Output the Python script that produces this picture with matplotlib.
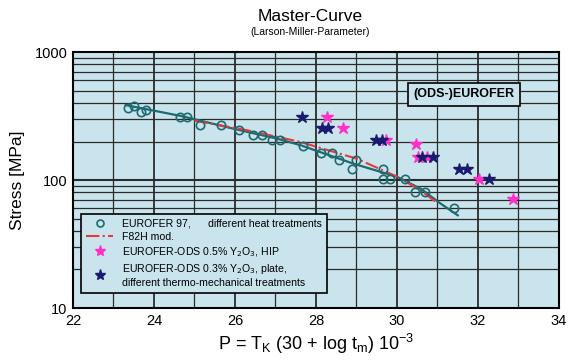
import numpy as np
import matplotlib
matplotlib.use("Agg")
import matplotlib.pyplot as plt
from matplotlib.ticker import FixedLocator, NullFormatter

plt.rcParams['font.family'] = ['Liberation Sans', 'DejaVu Sans']

# EUROFER 97, different heat treatments (circles)
eu_p = [23.37, 23.51, 23.68, 23.81, 24.65, 24.81, 25.14, 25.66, 26.10, 26.44,
        26.66, 26.92, 27.11, 27.68, 28.12, 28.40, 28.56, 28.90, 28.98, 29.66,
        29.66, 29.83, 30.20, 30.44, 30.68, 31.40]
eu_s = [363, 378, 342, 354, 311, 311, 269, 269, 247, 223,
        225, 204, 204, 183, 163, 163, 143, 122, 144, 122,
        102, 101, 102, 81, 81, 61]

# master curve fit through EUROFER 97
fit_p = [23.3, 24.7, 26.0, 27.0, 27.6, 28.9, 30.0, 30.6, 31.06, 31.5]
fit_s = [385, 315, 250, 212, 188, 135, 106, 85, 66, 53]

# F82H mod.
f82_p = [25.0, 26.3, 27.6, 29.0, 30.07, 30.6, 31.0]
f82_s = [291, 245, 199, 147, 104, 82, 66]

# EUROFER-ODS 0.5% Y2O3, HIP
ods5_p = [28.26, 28.67, 29.73, 30.48, 30.53, 30.73, 32.02, 32.86]
ods5_s = [312, 256, 204, 190, 152, 152, 102, 71]

# EUROFER-ODS 0.3% Y2O3, plate
ods3_p = [27.65, 28.14, 28.30, 29.47, 29.62, 30.61, 30.88, 31.52, 31.72, 32.28]
ods3_s = [312, 256, 256, 204, 204, 152, 152, 122, 122, 102]

bg = '#c9e4ec'
teal = '#1d6b70'

fig = plt.figure(figsize=(5.78, 3.64), dpi=100)
ax = fig.add_axes([0.1263, 0.1538, 0.8408, 0.7032])
ax.set_facecolor(bg)

ax.set_xlim(22, 34)
ax.set_yscale('log')
ax.set_ylim(10, 1000)

# grid
for xv in range(23, 34):
    ax.axvline(xv, color='#2a2a2a', lw=1.3 if xv % 2 == 0 else 0.9, zorder=1)
minor_y = [m * 10 ** e for e in (1, 2) for m in range(2, 10)]
for yv in minor_y:
    ax.axhline(yv, color='#2a2a2a', lw=0.9, zorder=1)
ax.axhline(100, color='#2a2a2a', lw=1.5, zorder=1)

ax.plot(fit_p, fit_s, color=teal, lw=1.6, zorder=3)
ax.plot(f82_p, f82_s, color='#e8383d', lw=1.5, ls='-.', zorder=4)
ax.plot(eu_p, eu_s, ls='none', marker='o', ms=6, mfc='none', mec=teal, mew=1.2,
        zorder=5)
ax.plot(ods5_p, ods5_s, ls='none', marker='*', ms=9, color='#ff30c8', zorder=6)
ax.plot(ods3_p, ods3_s, ls='none', marker='*', ms=9, color='#1a1a70', zorder=7)

# legend handles
h1, = ax.plot([], [], ls='none', marker='o', ms=5, mfc='none', mec=teal, mew=1.2)
h2, = ax.plot([], [], color='#e8383d', lw=1.5, ls='-.')
h3, = ax.plot([], [], ls='none', marker='*', ms=8, color='#ff30c8')
h4, = ax.plot([], [], ls='none', marker='*', ms=8, color='#1a1a70')
leg = ax.legend([h1, h2, h3, h4],
                ['EUROFER 97,      different heat treatments',
                 'F82H mod.',
                 'EUROFER-ODS 0.5% Y$_2$O$_3$, HIP',
                 'EUROFER-ODS 0.3% Y$_2$O$_3$, plate,\ndifferent thermo-mechanical treatments'],
                loc='lower left', bbox_to_anchor=(0.016, 0.059), borderaxespad=0,
                fontsize=7.6, frameon=True, fancybox=False, edgecolor='black',
                facecolor=bg, framealpha=1, handlelength=2.6, labelspacing=0.3,
                borderpad=0.5, handletextpad=0.8)
leg.get_frame().set_linewidth(1.2)
leg.set_zorder(10)

ax.text(0.908, 0.835, '(ODS-)EUROFER', transform=ax.transAxes, ha='right',
        va='center', fontsize=9, fontweight='bold',
        bbox=dict(boxstyle='square,pad=0.45', fc=bg, ec='black', lw=1.2),
        zorder=10)

ax.set_xticks(range(22, 35, 2))
ax.yaxis.set_minor_locator(FixedLocator(minor_y))
ax.yaxis.set_minor_formatter(NullFormatter())
ax.set_yticks([10, 100, 1000])
ax.set_yticklabels(['10', '100', '1000'])
ax.tick_params(axis='both', labelsize=10.5, length=0, pad=4)
ax.tick_params(which='minor', length=0)
for s in ax.spines.values():
    s.set_linewidth(1.5)

ax.set_ylabel('Stress [MPa]', fontsize=12.5, labelpad=7)
ax.set_xlabel('P = T$_\\mathregular{K}$ (30 + log t$_\\mathregular{m}$) 10$^{\\mathregular{-3}}$',
              fontsize=13, labelpad=3)

fig.text(0.536, 0.955, 'Master-Curve', ha='center', va='center', fontsize=12.5)
fig.text(0.536, 0.913, '(Larson-Miller-Parameter)', ha='center', va='center',
         fontsize=7.5)

fig.savefig('out.png', dpi=100)
